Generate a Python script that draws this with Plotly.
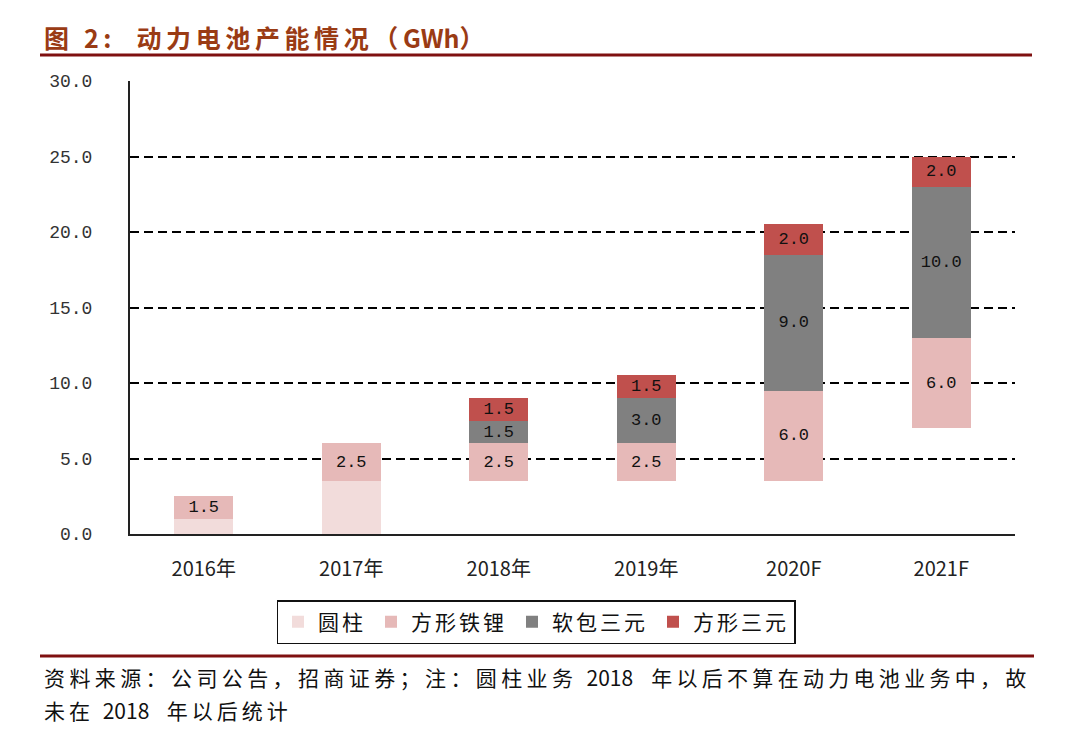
import plotly.graph_objects as go

categories = ["2016年", "2017年", "2018年", "2019年", "2020F", "2021F"]
base_gap = [None, None, 3.5, 3.5, 3.5, 7.0]          # invisible offset (not counted)
cylinder = [1.0, 3.5, None, None, None, None]          # 圆柱
prism_lfp = [1.5, 2.5, 2.5, 2.5, 6.0, 6.0]             # 方形铁锂
pouch_ncm = [None, None, 1.5, 3.0, 9.0, 10.0]          # 软包三元
prism_ncm = [None, None, 1.5, 1.5, 2.0, 2.0]           # 方形三元

y_ticks = [0, 5, 10, 15, 20, 25, 30]

W, H = 1080, 730
L, R, T, B = 130, 65, 81, 196
pw, ph = W - L - R, H - T - B

def px_x(x):
    return (x - L) / pw

def px_y(y):
    return (H - B - y) / ph

def spaced(s, px):
    return f'<span style="letter-spacing:{px}px">{s}</span>'

NB = "\u00a0"
num_font = dict(family="Liberation Mono, DejaVu Sans Mono, monospace", size=17, color="#111111")

fig = go.Figure()
fig.add_trace(go.Bar(x=categories, y=base_gap, marker=dict(color="rgba(0,0,0,0)", line=dict(width=0)),
                     showlegend=False, hoverinfo="skip", width=0.4))
series = [
    ("圆柱", cylinder, "#F2DCDB", False),
    ("方形铁锂", prism_lfp, "#E6B9B8", True),
    ("软包三元", pouch_ncm, "#808080", True),
    ("方形三元", prism_ncm, "#C0504D", True),
]
for name, vals, color, lab in series:
    fig.add_trace(go.Bar(
        x=categories, y=vals, name=spaced(name, 3), width=0.4,
        marker=dict(color=color, line=dict(width=0)),
        text=[(f"{v:.1f}" if v is not None else "") for v in vals] if lab else None,
        textposition="inside", insidetextanchor="middle", constraintext="none",
        textfont=num_font, textangle=0,
    ))

fig.update_layout(
    barmode="stack",
    width=W, height=H, autosize=False,
    margin=dict(l=L, r=R, t=T, b=B),
    paper_bgcolor="white", plot_bgcolor="white",
    xaxis=dict(showline=True, linecolor="#222222", linewidth=2, showgrid=False,
               ticks="", tickfont=dict(family="Noto Sans CJK SC", size=20, color="#222222"),
               ticklabelstandoff=16),
    yaxis=dict(range=[0, 30], tickvals=y_ticks, tickformat=".1f",
               showline=True, linecolor="#222222", linewidth=2,
               showgrid=True, gridcolor="#000000", gridwidth=1.5, griddash="9px,5px",
               zeroline=False, ticks="", ticklabelstandoff=32,
               tickfont=dict(family="Liberation Mono, DejaVu Sans Mono, monospace", size=18, color="#333333")),
    legend=dict(orientation="h", x=px_x(536), xanchor="center", y=px_y(600), yanchor="top",
                bordercolor="#111111", borderwidth=1.5,
                font=dict(family="Noto Sans CJK SC", size=21, color="#111111"),
                traceorder="normal", itemclick=False, itemwidth=30),
    showlegend=True,
)

# title and rules
fig.add_annotation(text="<b>" + spaced("图 2:  动力电池产能情况（", 4.6) + "GWh" + spaced("）", 4) + "</b>",
                   x=px_x(42), y=px_y(37),
                   xref="paper", yref="paper", xanchor="left", yanchor="middle", showarrow=False,
                   font=dict(family="Noto Sans CJK SC", size=25, color="#9A3B14"))
fig.add_shape(type="line", xref="paper", yref="paper", x0=px_x(40), x1=px_x(1032),
              y0=px_y(55), y1=px_y(55), line=dict(color="#7F1010", width=3))
fig.add_shape(type="line", xref="paper", yref="paper", x0=px_x(40), x1=px_x(1034),
              y0=px_y(656), y1=px_y(656), line=dict(color="#7F1010", width=3))
fig.add_annotation(text=spaced("资料来源：公司公告，招商证券；注：圆柱业务" + NB, 4.4) + "2018"
                   + spaced(NB + NB + "年以后不算在动力电池业务中，故", 4.3),
                   x=px_x(42), y=px_y(677), xref="paper", yref="paper", xanchor="left", yanchor="middle",
                   showarrow=False, font=dict(family="Noto Sans CJK SC", size=21, color="#111111"))
fig.add_annotation(text=spaced("未在" + NB, 4) + "2018" + spaced(NB + NB + "年以后统计", 4),
                   x=px_x(42), y=px_y(710), xref="paper", yref="paper", xanchor="left", yanchor="middle",
                   showarrow=False, font=dict(family="Noto Sans CJK SC", size=21, color="#111111"))

fig.write_html("out.html", config={"displayModeBar": False},
               post_script="document.body.style.margin='0';document.body.style.overflow='hidden';")
